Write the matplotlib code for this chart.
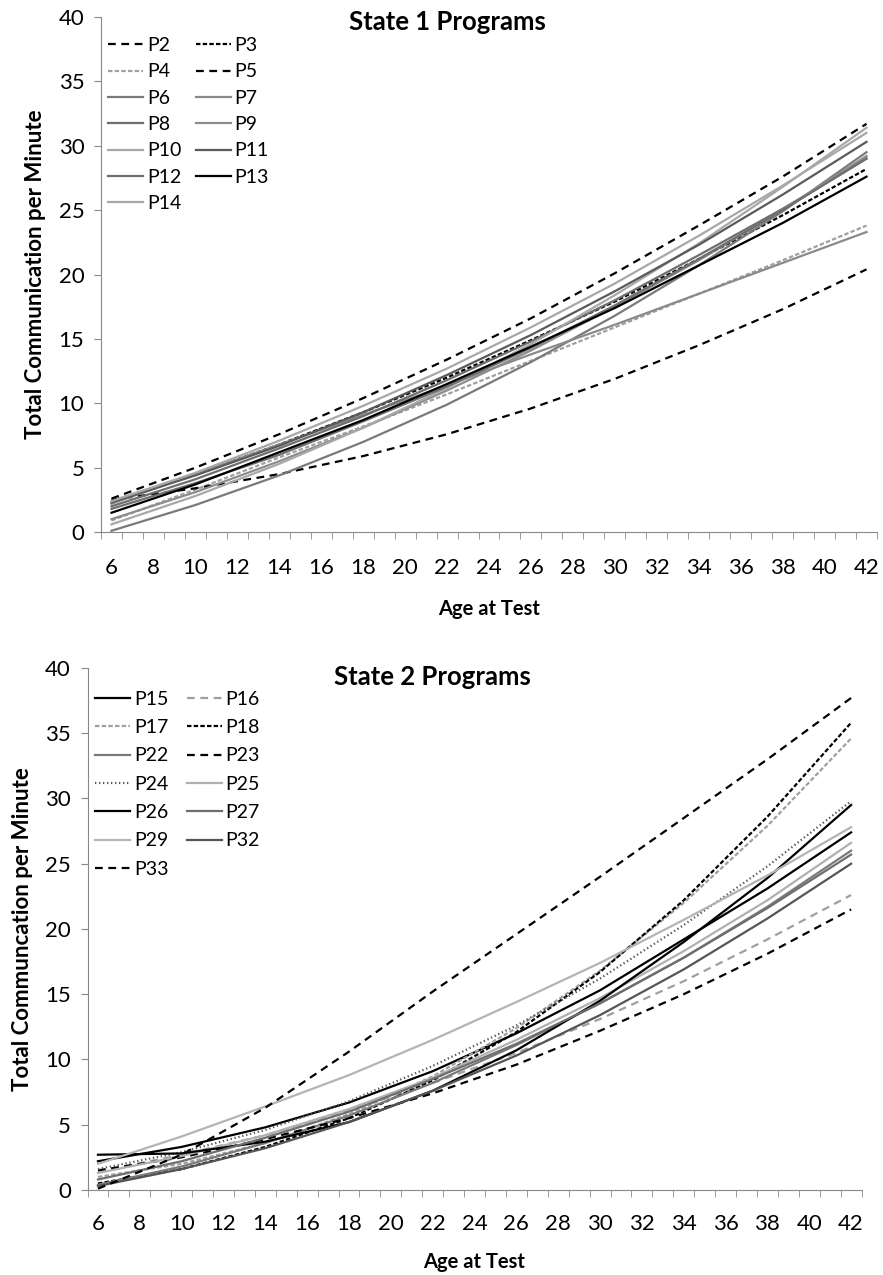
import matplotlib
matplotlib.use("Agg")
import matplotlib.pyplot as plt
import numpy as np

plt.rcParams['font.family'] = ['Lato', 'DejaVu Sans']

ages = [6, 10, 14, 18, 22, 26, 30, 34, 38, 42]
age_ticks = list(range(6, 43, 2))

# State 1 programs
s1_names = ["P2", "P3", "P4", "P5", "P6", "P7", "P8", "P9", "P10", "P11", "P12", "P13", "P14"]
s1_values = [
    [2.6, 5.0, 7.6, 10.4, 13.4, 16.6, 20.1, 23.8, 27.6, 31.7],   # P2
    [2.4, 4.5, 6.8, 9.3, 12.0, 14.9, 17.9, 21.2, 24.6, 28.2],    # P3
    [0.9, 3.3, 5.8, 8.2, 10.7, 13.3, 15.9, 18.5, 21.1, 23.8],    # P4
    [2.5, 3.4, 4.5, 5.9, 7.6, 9.6, 11.9, 14.5, 17.3, 20.4],      # P5
    [0.1, 2.1, 4.4, 7.0, 9.9, 13.2, 16.8, 20.7, 24.9, 29.5],     # P6
    [2.2, 4.5, 6.8, 9.1, 11.4, 13.8, 16.1, 18.5, 20.9, 23.3],    # P7
    [2.0, 4.1, 6.5, 9.0, 11.8, 14.8, 18.0, 21.5, 25.1, 29.0],    # P8
    [1.0, 3.1, 5.5, 8.1, 11.0, 14.1, 17.5, 21.1, 25.0, 29.2],    # P9
    [0.6, 2.8, 5.3, 8.1, 11.2, 14.6, 18.4, 22.4, 26.8, 31.4],    # P10
    [2.3, 4.4, 6.7, 9.3, 12.2, 15.3, 18.7, 22.3, 26.2, 30.3],    # P11
    [1.8, 3.8, 6.0, 8.6, 11.3, 14.3, 17.6, 21.2, 25.0, 29.0],    # P12
    [1.5, 3.7, 6.2, 8.7, 11.5, 14.4, 17.4, 20.7, 24.0, 27.6],    # P13
    [2.4, 4.6, 7.1, 9.8, 12.7, 15.9, 19.3, 23.0, 26.9, 31.0],    # P14
]

# State 2 programs
s2_names = ["P15", "P16", "P17", "P18", "P22", "P23", "P24", "P25", "P26", "P27", "P29", "P32", "P33"]
s2_values = [
    [2.2, 3.3, 4.8, 6.7, 9.1, 12.0, 15.3, 19.2, 23.1, 27.4],     # P15
    [1.4, 2.7, 4.2, 6.1, 8.2, 10.5, 13.1, 16.0, 19.2, 22.6],     # P16
    [1.0, 2.0, 3.6, 5.8, 8.7, 12.4, 16.8, 22.0, 27.9, 34.6],     # P17
    [0.5, 1.6, 3.3, 5.5, 8.4, 12.1, 16.7, 22.2, 28.6, 35.8],     # P18
    [0.4, 1.8, 3.6, 5.7, 8.2, 11.1, 14.3, 17.8, 21.7, 26.0],     # P22
    [1.5, 2.5, 3.9, 5.5, 7.4, 9.6, 12.2, 15.0, 18.1, 21.5],      # P23
    [1.6, 2.9, 4.6, 6.8, 9.5, 12.6, 16.2, 20.3, 24.8, 29.8],     # P24
    [1.3, 2.6, 4.2, 6.2, 8.6, 11.5, 14.7, 18.3, 22.2, 26.6],     # P25
    [2.7, 2.8, 3.7, 5.2, 7.6, 10.7, 14.5, 19.0, 23.9, 29.5],     # P26
    [0.8, 2.2, 4.0, 6.0, 8.5, 11.2, 14.3, 17.8, 21.6, 25.7],     # P27
    [2.0, 4.1, 6.4, 8.8, 11.5, 14.4, 17.4, 20.7, 24.1, 27.8],    # P29
    [0.3, 1.6, 3.2, 5.2, 7.6, 10.3, 13.4, 16.9, 20.8, 25.0],     # P32
    [0.1, 2.7, 6.3, 10.6, 15.2, 19.6, 24.0, 28.5, 33.0, 37.7],   # P33
]

LONG = (3.5, 2.5)
FINE = (2.0, 1.0)
DOT = (0.6, 1.2)

s1_styles = {
    "P2": ("black", LONG), "P3": ("black", FINE), "P4": ("#a0a0a0", FINE),
    "P5": ("black", LONG), "P6": ("#7a7a7a", None), "P7": ("#8a8a8a", None),
    "P8": ("#6e6e6e", None), "P9": ("#8c8c8c", None), "P10": ("#a8a8a8", None),
    "P11": ("#5a5a5a", None), "P12": ("#6e6e6e", None), "P13": ("black", None),
    "P14": ("#a8a8a8", None),
}
s2_styles = {
    "P15": ("black", None), "P16": ("#a0a0a0", LONG), "P17": ("#a0a0a0", FINE),
    "P18": ("black", FINE), "P22": ("#7a7a7a", None), "P23": ("black", LONG),
    "P24": ("#555555", DOT), "P25": ("#b0b0b0", None), "P26": ("black", None),
    "P27": ("#6e6e6e", None), "P29": ("#b4b4b4", None), "P32": ("#555555", None),
    "P33": ("black", LONG),
}

fig = plt.figure(figsize=(8.83, 12.75), dpi=100)
ax1 = fig.add_axes([0.1144, 0.5827, 0.8788, 0.404])
ax2 = fig.add_axes([0.0991, 0.0667, 0.8766, 0.4094])


def draw_panel(ax, names, values, styles, title, title_y, ylabel, anchor,
               labelspacing, colspacing, xpad, xlabelpad):
    handles = []
    for name, vals in zip(names, values):
        color, dash = styles[name]
        line, = ax.plot(ages, vals, color=color, lw=1.6, label=name)
        if dash is not None:
            line.set_dashes(dash)
        handles.append(line)
    ax.set_xlim(5.5, 42.5)
    ax.set_ylim(0, 40)
    ax.set_yticks(range(0, 41, 5))
    ax.set_xticks(age_ticks)
    ax.set_xticks(np.arange(5.5, 43, 1.0), minor=True)
    ax.tick_params(axis='x', which='major', length=0, pad=xpad, labelsize=16)
    ax.tick_params(axis='x', which='minor', length=5, direction='out', color='#888888')
    ax.tick_params(axis='y', length=5, color='#888888', labelsize=16, pad=7)
    for s in ['top', 'right']:
        ax.spines[s].set_visible(False)
    for s in ['left', 'bottom']:
        ax.spines[s].set_color('#888888')
    ax.set_xlabel("Age at Test", fontsize=14.5, fontweight='bold', labelpad=xlabelpad)
    ax.set_ylabel(ylabel, fontsize=16, fontweight='bold', labelpad=9)
    ax.text(0.446, title_y, title, transform=ax.transAxes, ha='center', va='center',
            fontsize=18.5, fontweight='bold')
    # legend reads row by row, matplotlib fills columns first
    order = handles[0::2] + handles[1::2]
    ax.legend(order, [h.get_label() for h in order], loc='upper left',
              bbox_to_anchor=anchor, ncol=2, frameon=False,
              fontsize=14, handlelength=1.8, handletextpad=0.2, columnspacing=colspacing,
              labelspacing=labelspacing, borderaxespad=0, borderpad=0)


draw_panel(ax1, s1_names, s1_values, s1_styles, "State 1 Programs", 0.99,
           "Total Communication per Minute", (0.009, 0.961), 0.48, 0.75, 19, 15)
draw_panel(ax2, s2_names, s2_values, s2_styles, "State 2 Programs", 0.983,
           "Total Communcation per Minute", (0.0098, 0.956), 0.58, 0.94, 17, 13)

fig.savefig("out.png", dpi=100)
